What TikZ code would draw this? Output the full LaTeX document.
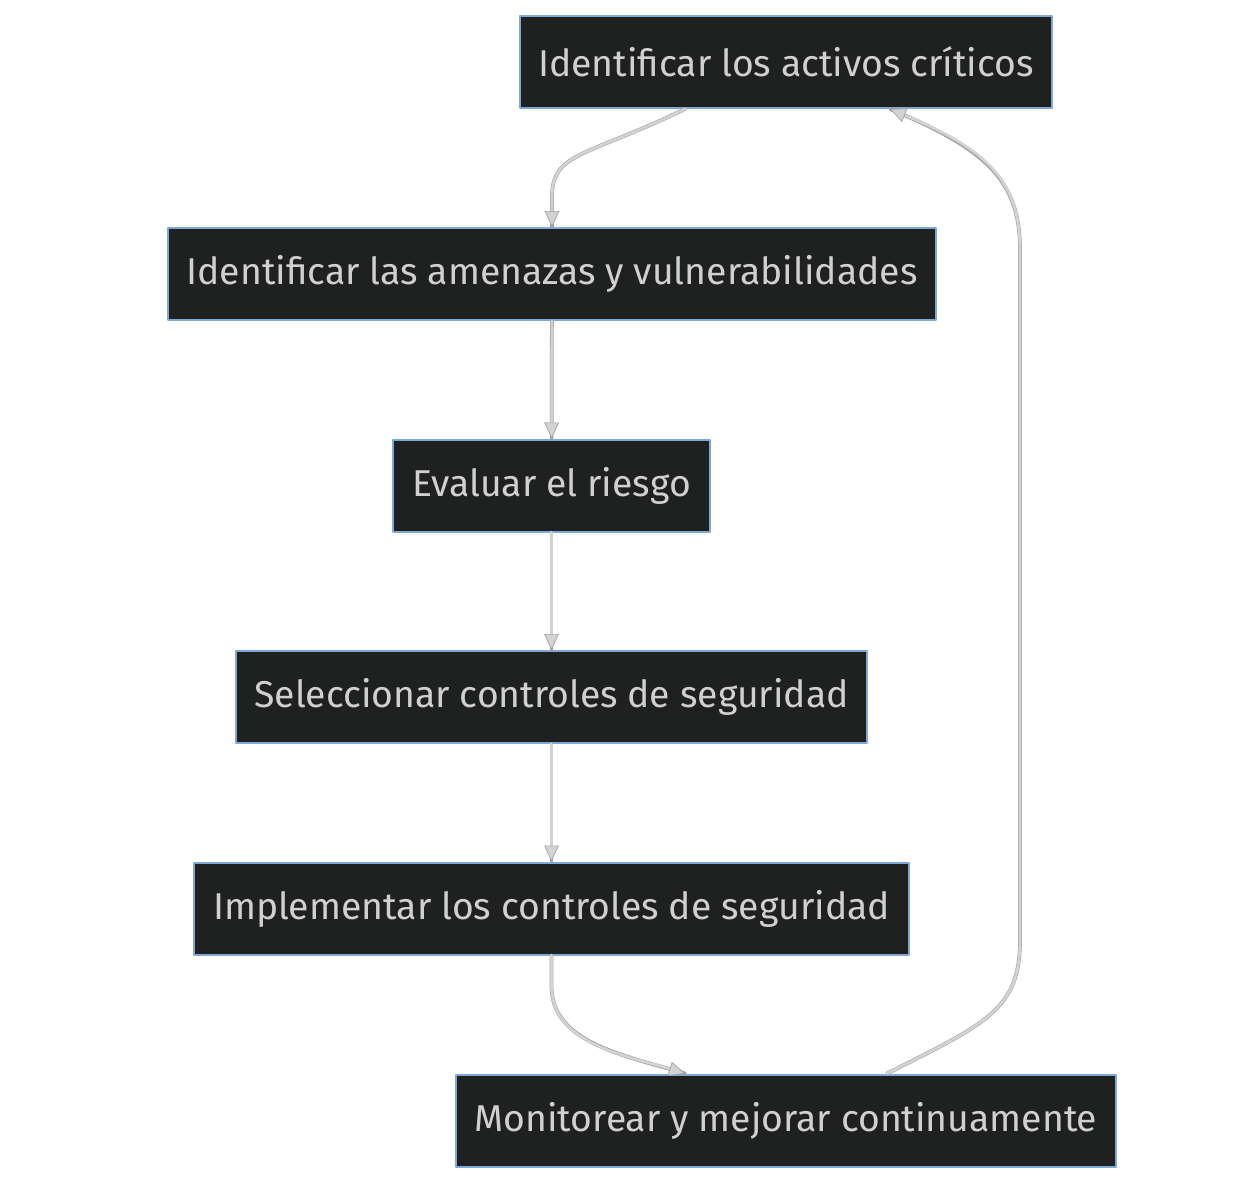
\documentclass[tikz,border=0pt]{standalone}
\usepackage{fontspec}
\setmainfont{Fira Sans}
\usetikzlibrary{arrows.meta, calc}
\definecolor{boxfill}{HTML}{1F2020}
\definecolor{boxline}{HTML}{7FA8D4}
\definecolor{boxtext}{HTML}{D0D0D0}
\definecolor{edgeline}{HTML}{D3D3D3}
\definecolor{edgeedge}{HTML}{A0A0A0}
\tikzset{>=latex}
\tikzset{stepbox/.style={draw=boxline, fill=boxfill, text=boxtext, line width=1.5pt, minimum height=69pt, inner xsep=14pt, font=\fontsize{28}{32}\selectfont}}
\tikzset{flow/.style={draw=edgeline, line width=2pt, -{Triangle[length=12pt, width=11pt, color=edgeedge, fill=edgeline, line width=0.5pt]}, preaction={draw=edgeedge, line width=2.8pt, -{}}}}

\begin{document}
\begin{tikzpicture}[x=0.75pt, y=-0.75pt, line cap=round, line join=round]

	% Canvas
	\fill[white] (0,0) rectangle (1235,1189);
	\useasboundingbox (0,0) rectangle (1235,1189);

	% Nodes
	\node[stepbox] (activos) at (786,62) {Identificar los activos críticos};
	\node[stepbox] (amenazas) at (552,274) {Identificar las amenazas y vulnerabilidades};
	\node[stepbox] (riesgo) at (551.5,485.5) {Evaluar el riesgo};
	\node[stepbox] (seleccion) at (551.5,697) {Seleccionar controles de seguridad};
	\node[stepbox] (implementa) at (551.5,908.5) {Implementar los controles de seguridad};
	\node[stepbox] (monitoreo) at (786,1120.5) {Monitorear y mejorar continuamente};

	% Edges
	\draw[flow] ($(activos.south)+(-101,0)$) .. controls ($(activos.south)+(-200,48)$) and ($(amenazas.north)+(0,-75)$) .. ($(amenazas.north)+(0,-30)$) -- (amenazas.north);
	\draw[flow] (amenazas) -- (riesgo);
	\draw[flow] (riesgo) -- (seleccion);
	\draw[flow] (seleccion) -- (implementa);
	\draw[flow] (implementa.south) -- ($(implementa.south)+(0,30)$) .. controls ($(monitoreo.north)+(-235,-30)$) and ($(monitoreo.north)+(-160,-18)$) .. ($(monitoreo.north)+(-101,0)$);
	\draw[flow] ($(monitoreo.north)+(101,0)$) .. controls ($(monitoreo.north)+(200,-50)$) and (1020,1010) .. (1020,940) -- (1020,250) .. controls (1020,180) and ($(activos.south)+(200,40)$) .. ($(activos.south)+(104,0)$);

\end{tikzpicture}
\end{document}
